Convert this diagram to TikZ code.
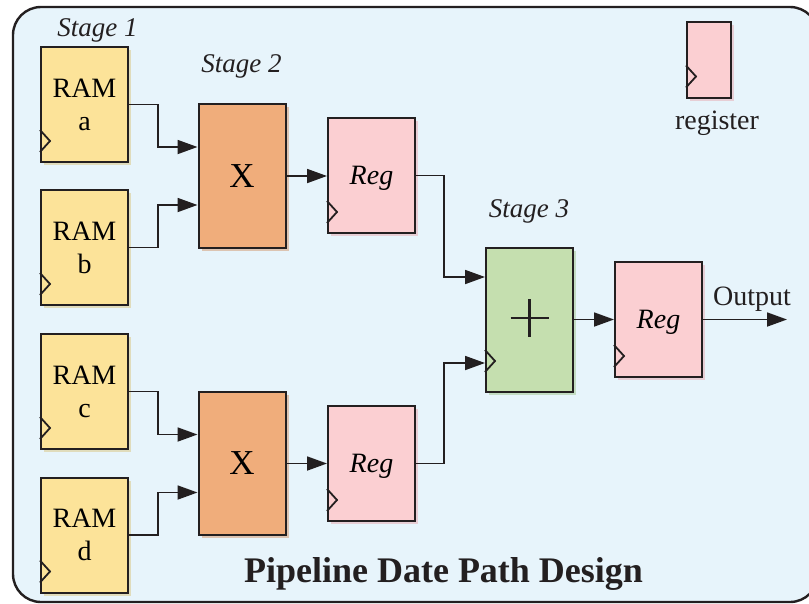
\documentclass[tikz,border=0pt]{standalone}
\usepackage{fontspec}
\setmainfont{Liberation Serif}
\usetikzlibrary{arrows.meta,calc}

\definecolor{panelbg}{HTML}{E7F4FB}
\definecolor{inkline}{HTML}{231F20}
\definecolor{ramfill}{HTML}{FCE399}
\definecolor{ramglow}{HTML}{D9C070}
\definecolor{mulfill}{HTML}{F0AD7B}
\definecolor{mulglow}{HTML}{D08A5A}
\definecolor{regfill}{HTML}{FBCFD2}
\definecolor{regglow}{HTML}{E8A0A8}
\definecolor{addfill}{HTML}{C5DFAF}
\definecolor{addglow}{HTML}{98BF80}

\tikzset{
  block/.style={draw=inkline, line width=2pt, minimum width=87pt,
    inner sep=0pt, align=center},
  rambox/.style={block, fill=ramfill, minimum height=115pt,
    font=\fontsize{28}{33}\selectfont},
  mulbox/.style={block, fill=mulfill, minimum height=144pt,
    font=\fontsize{35}{38}\selectfont},
  regbox/.style={block, fill=regfill, minimum height=115pt, text depth=0pt,
    font=\fontsize{28}{33}\selectfont\itshape},
  addbox/.style={block, fill=addfill, minimum height=144pt},
  glow/.style={fill=#1, opacity=0.45},
  wire/.style={draw=inkline, line width=1.8pt},
  arr/.style={wire, -{Triangle[length=20pt,width=14pt]}},
  clkline/.style={draw=inkline, line width=1.8pt},
  stagelbl/.style={anchor=base, font=\fontsize{27}{30}\selectfont\itshape,
    text=inkline, inner sep=0pt},
  plainlbl/.style={anchor=base, font=\fontsize{28}{30}\selectfont,
    text=inkline, inner sep=0pt},
}

\begin{document}
\begin{tikzpicture}[x=1pt, y=-1pt]
  \useasboundingbox (0,0) rectangle (809,603);
  \clip (0,0) rectangle (809,603);

  % rounded panel
  \draw[fill=panelbg, draw=inkline, line width=2.4pt, rounded corners=28pt]
    (13,7) rectangle (818,602);

  % soft shadows behind the blocks
  \foreach \cx/\cy/\w/\h/\c in {
      84.5/104.5/87/115/ramglow, 84.5/247.5/87/115/ramglow,
      84.5/391.5/87/115/ramglow, 84.5/535/87/115/ramglow,
      242/176/87/144/mulglow, 242/463.5/87/143/mulglow,
      371.5/175.5/87/115/regglow, 371.5/463.5/87/115/regglow,
      529.5/320/87/144/addglow, 658.5/319.5/87/115/regglow,
      709/60/44/76/regglow}
    \fill[glow=\c] (\cx-\w/2+3,\cy-\h/2+3) rectangle (\cx+\w/2+3,\cy+\h/2+3);

  % stage 1: memories
  \node[rambox] (ramA) at (84.5,104.5) {RAM\\a};
  \node[rambox] (ramB) at (84.5,247.5) {RAM\\b};
  \node[rambox] (ramC) at (84.5,391.5) {RAM\\c};
  \node[rambox] (ramD) at (84.5,535)   {RAM\\d};

  % stage 2: multipliers and their registers
  \node[mulbox] (mulA) at (242,176)   {X};
  \node[mulbox, minimum height=143pt] (mulB) at (242,463.5) {X};
  \node[regbox] (regA) at (371.5,175.5) {Reg};
  \node[regbox] (regB) at (371.5,463.5) {Reg};

  % stage 3: adder and output register
  \node[addbox] (adder) at (529.5,320) {};
  \node[regbox] (regOut) at (658.5,319.5) {Reg};
  \draw[wire, line width=2.4pt] ($(adder.center)+(-19,-2)$) -- ($(adder.center)+(19,-2)$);
  \draw[wire, line width=2.4pt] ($(adder.center)+(0,-21)$) -- ($(adder.center)+(0,17)$);

  % legend
  \node[block, fill=regfill, minimum width=44pt, minimum height=76pt] (legReg) at (709,60) {};
  \node[plainlbl] (legText) at (717,129) {register};

  % clock inputs
  \foreach \n in {ramA,ramB,ramC,ramD,regA,regB,regOut}
    \draw[clkline] ([yshift=33pt]\n.south west) -- ++(10,11) -- ++(-10,11);
  \draw[clkline] ([yshift=43pt]adder.south west) -- ++(10,11) -- ++(-10,11);
  \draw[clkline] ([yshift=33.5pt]legReg.south west) -- ++(10,11) -- ++(-10,11);

  % stage labels
  \node[stagelbl] (st1) at (97.5,36)  {Stage 1};
  \node[stagelbl] (st2) at (241.5,72) {Stage 2};
  \node[stagelbl] (st3) at (529,217)  {Stage 3};

  % data path
  \draw[arr] (ramA.east) -- ++(29,0) |- ([yshift=29pt]mulA.west);
  \draw[arr] (ramB.east) -- ++(29,0) |- ([yshift=-29pt]mulA.west);
  \draw[arr] (ramC.east) -- ++(29,0) |- ([yshift=29pt]mulB.west);
  \draw[arr] (ramD.east) -- ++(29,0) |- ([yshift=-29pt]mulB.west);
  \draw[arr] (mulA.east) -- (mulA.east -| regA.west);
  \draw[arr] (mulB.east) -- (mulB.east -| regB.west);
  \draw[arr] (regA.east) -- ++(28,0) |- ([yshift=43pt]adder.west);
  \draw[arr] (regB.east) -- ++(28,0) |- ([yshift=-43pt]adder.west);
  \draw[arr] (adder.east |- regOut.west) -- (regOut.west);
  \coordinate (outEnd) at (787,319.5);
  \draw[arr] (regOut.east) -- (outEnd);
  \node[plainlbl] (outText) at (752,305) {Output};

  % title
  \node[anchor=base, font=\fontsize{36}{40}\selectfont\bfseries, text=inkline,
    inner sep=0pt] (title) at (443.5,582) {Pipeline Date Path Design};
\end{tikzpicture}
\end{document}
